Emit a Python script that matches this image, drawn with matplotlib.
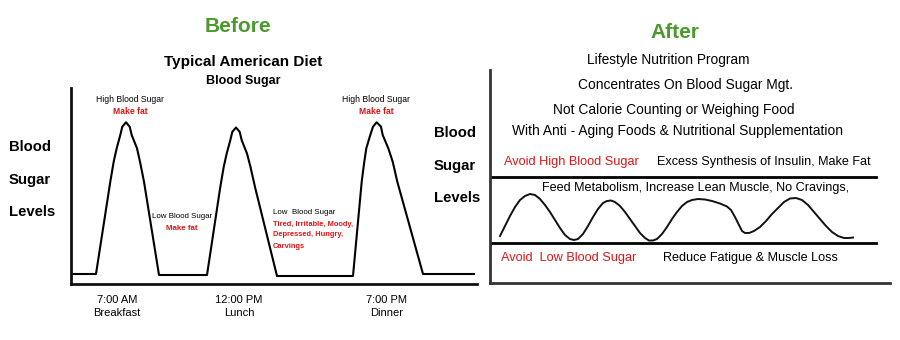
import matplotlib
matplotlib.use("Agg")
import matplotlib.pyplot as plt

plt.rcParams['font.family'] = ['Liberation Sans', 'DejaVu Sans']

# ---------------- data ----------------
# Before panel: blood-sugar curve (arbitrary time units, arbitrary level units)
before_x = [1, 25,
            39.3, 42.7, 45.7, 49.3, 51.3, 55, 58.7, 60.7, 66, 69, 73,
            88, 136,
            149.3, 152.7, 155.7, 159.3, 161.3, 165, 168.7, 170.7, 176, 179.5, 184,
            206, 282,
            290.7, 293.3, 295.3, 299.3, 302, 305.7, 310, 311.7, 317.3, 321.7, 326.3,
            352, 403]
before_y = [10, 10,
            102.3, 122.3, 135.7, 149, 157.3, 161.7, 157.3, 149, 135.7, 122.3, 102.3,
            9, 9,
            97, 117, 130.5, 143.8, 152.1, 156.5, 152.1, 143.8, 130.5, 117, 97,
            8, 8,
            102.3, 122.3, 135.7, 149, 157.3, 161.7, 157.3, 149, 135.7, 122.3, 102.3,
            10, 10]
before_tick_x = [46, 168, 316]
before_tick_labels = ["7:00 AM\nBreakfast", "12:00 PM\nLunch", "7:00 PM\nDinner"]

# After panel: stabilised blood-sugar wave
after_x = [10, 15, 20, 25, 30, 35, 40, 45, 50, 55, 60, 65, 70, 75, 80, 84, 88, 93, 98,
           103, 108, 113, 117, 121, 125, 130, 135, 140, 145, 150, 155, 159, 163, 167,
           172, 177, 182, 187, 192, 197, 202, 208, 215, 222, 230, 237, 241, 245, 249,
           252, 255, 259, 264, 270, 276, 282, 288, 294, 300, 306, 312, 318, 324, 330,
           336, 342, 348, 354, 359, 363]
after_y = [47, 57, 67, 76, 83, 87, 89, 88, 84, 78, 71, 63, 55, 48, 44, 43, 44, 49, 57,
           66, 74, 80, 82, 82.5, 81, 77, 71, 64, 57, 50, 45, 42.5, 42.5, 44,
           49, 56, 64, 71, 77, 81, 83, 84, 83.5, 82, 79.5, 76.5, 73, 66, 58,
           52, 50, 50, 52, 56, 62, 69, 75, 81, 84.5, 85, 83, 78, 71, 64,
           57, 51, 47, 45, 45, 45.5]
after_band_hi = 106.3
after_band_lo = 40.3

RED = "#e01414"
GREEN = "#4c9a2c"

fig = plt.figure(figsize=(9, 3.4), dpi=100)
W, H = 900, 340

def frac_rect(x0, y_top, x1, y_bot):
    return [x0 / W, (H - y_bot) / H, (x1 - x0) / W, (y_bot - y_top) / H]

# overlay axes for text (pixel layout coordinates)
ov = fig.add_axes([0, 0, 1, 1])
ov.set_xlim(0, W)
ov.set_ylim(H, 0)
ov.axis('off')

# ---------------- Before panel ----------------
axL = fig.add_axes(frac_rect(71, 88, 477, 284))
axL.plot(before_x, before_y, color='black', lw=1.5, solid_joinstyle='round')
axL.set_xlim(0, 406)
axL.set_ylim(0, 196)
for s in ['top', 'right']:
    axL.spines[s].set_visible(False)
for s in ['left', 'bottom']:
    axL.spines[s].set_linewidth(2)
    axL.spines[s].set_color('#111111')
axL.set_yticks([])
axL.set_xticks(before_tick_x)
axL.set_xticklabels(before_tick_labels, fontsize=8, linespacing=1.35)
axL.tick_params(axis='x', length=0, pad=8)
axL.patch.set_alpha(0)

# ---------------- After panel ----------------
axR = fig.add_axes(frac_rect(490, 70, 890, 283))
axR.plot(after_x, after_y, color='#111111', lw=1.4)
axR.set_xlim(0, 400)
axR.set_ylim(0, 213)
axR.axhline(after_band_hi, xmin=0, xmax=386 / 400, color='black', lw=2)
axR.axhline(after_band_lo, xmin=0, xmax=386 / 400, color='black', lw=2)
for s in ['top', 'right']:
    axR.spines[s].set_visible(False)
for s in ['left', 'bottom']:
    axR.spines[s].set_linewidth(2)
    axR.spines[s].set_color('#333333')
axR.set_xticks([])
axR.set_yticks([])
axR.patch.set_alpha(0)

# ---------------- texts ----------------
def t(x, y, s, size, color='black', weight='normal', ha='center'):
    ov.text(x, y, s, fontsize=size, color=color, fontweight=weight, ha=ha, va='center')

t(238, 27, "Before", 15, GREEN, 'bold')
t(675, 33, "After", 15, GREEN, 'bold')
t(243, 62, "Typical American Diet", 11, weight='bold')
t(243, 81, "Blood Sugar", 9, weight='bold')

t(130, 99, "High Blood Sugar", 6.2)
t(130, 111, "Make fat", 6.2, RED, 'bold')
t(376, 99, "High Blood Sugar", 6.2)
t(376, 111, "Make fat", 6.2, RED, 'bold')

t(182, 217, "Low Blood Sugar", 5.7)
t(182, 228, "Make fat", 5.7, RED, 'bold')
t(273, 213, "Low  Blood Sugar", 5.7, ha='left')
t(273, 224, "Tired, Irritable, Moody,", 5.4, RED, 'bold', ha='left')
t(273, 235, "Depressed, Hungry,", 5.4, RED, 'bold', ha='left')
t(273, 246, "Carvings", 5.4, RED, 'bold', ha='left')

for y, s in [(147, "Blood"), (180, "Sugar"), (212, "Levels")]:
    t(9, y, s, 10.7, weight='bold', ha='left')
for y, s in [(133, "Blood"), (166, "Sugar"), (198, "Levels")]:
    t(434, y, s, 10.7, weight='bold', ha='left')

t(668, 60, "Lifestyle Nutrition Program", 9.9)
t(685, 85, "Concentrates On Blood Sugar Mgt.", 9.9)
t(674, 110, "Not Calorie Counting or Weighing Food", 9.9)
t(677, 131, "With Anti - Aging Foods & Nutritional Supplementation", 9.9)
t(504, 162, "Avoid High Blood Sugar", 9.2, RED, ha='left')
t(657, 162, "Excess Synthesis of Insulin, Make Fat", 9.1, ha='left')
t(542, 188, "Feed Metabolism, Increase Lean Muscle, No Cravings,", 9.05, ha='left')
t(501, 258, "Avoid  Low Blood Sugar", 9.2, RED, ha='left')
t(663, 258, "Reduce Fatigue & Muscle Loss", 9.1, ha='left')

fig.savefig("out.png", dpi=100)
